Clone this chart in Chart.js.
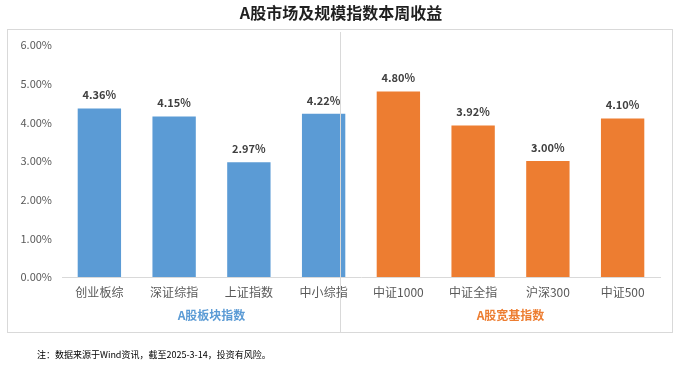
<!DOCTYPE html>
<html>
<head>
<meta charset="utf-8">
<script src="https://cdn.jsdelivr.net/npm/chart.js@4"></script>
<style>
  html, body { margin: 0; padding: 0; background: #fff; }
  #wrap { width: 683px; height: 366px; }
</style>
</head>
<body>
<div id="wrap"><canvas id="returns"></canvas></div>
<script>
// data
const categories = ["创业板综", "深证综指", "上证指数", "中小综指", "中证1000", "中证全指", "沪深300", "中证500"];
const weeklyReturn = [4.36, 4.15, 2.97, 4.22, 4.80, 3.92, 3.00, 4.10];
const groupNames = ["A股板块指数", "A股宽基指数"];
const groupRanges = [[0, 3], [4, 7]];
const yTicks = [0, 1, 2, 3, 4, 5, 6];

const blue = "#5B9BD5";
const orange = "#ED7D31";
const groupColors = [blue, orange];
const barColors = categories.map((c, i) => (i < 4 ? blue : orange));
const cjk = "'Noto Sans CJK SC', 'Noto Sans', sans-serif";

// frame, divider, titles, value labels, group labels
const decorations = {
  id: "decorations",
  beforeDraw(chart) {
    const ctx = chart.ctx;
    ctx.save();
    ctx.strokeStyle = "#d9d9d9";
    ctx.lineWidth = 1;
    ctx.strokeRect(7.5, 29.5, 665, 303);
    ctx.beginPath();
    ctx.moveTo(340.5, 32);
    ctx.lineTo(340.5, 332);
    ctx.stroke();
    ctx.restore();
  },
  afterDatasetsDraw(chart) {
    const ctx = chart.ctx;
    const meta = chart.getDatasetMeta(0);
    const xs = chart.scales.x;
    ctx.save();
    // divider sits on top of the bars
    ctx.strokeStyle = "#d9d9d9";
    ctx.lineWidth = 1;
    ctx.beginPath();
    ctx.moveTo(340.5, 32);
    ctx.lineTo(340.5, 332);
    ctx.stroke();

    ctx.fillStyle = "#404040";
    ctx.font = "bold 11px " + cjk;
    ctx.textAlign = "center";
    ctx.textBaseline = "bottom";
    meta.data.forEach((bar, i) => {
      ctx.fillText(weeklyReturn[i].toFixed(2) + "%", bar.x, bar.y - 8);
    });

    ctx.font = "bold 12px " + cjk;
    ctx.textBaseline = "middle";
    groupRanges.forEach((r, g) => {
      const cx = (xs.getPixelForValue(r[0]) + xs.getPixelForValue(r[1])) / 2;
      ctx.fillStyle = groupColors[g];
      ctx.fillText(groupNames[g], cx, 315);
    });

    ctx.fillStyle = "#1f1f1f";
    ctx.font = "bold 16px " + cjk;
    ctx.fillText("A股市场及规模指数本周收益", 341, 13);

    ctx.fillStyle = "#000";
    ctx.font = "9px " + cjk;
    ctx.textAlign = "left";
    ctx.fillText("注：数据来源于Wind资讯，截至2025-3-14，投资有风险。", 37, 355);
    ctx.restore();
  }
};

new Chart(document.getElementById("returns"), {
  type: "bar",
  data: {
    labels: categories,
    datasets: [
      {
        data: weeklyReturn,
        backgroundColor: barColors,
        barPercentage: 0.58,
        categoryPercentage: 1
      }
    ]
  },
  options: {
    responsive: true,
    maintainAspectRatio: false,
    animation: false,
    layout: { padding: { top: 45, left: 7, right: 23, bottom: 59 } },
    plugins: {
      legend: { display: false },
      tooltip: { enabled: false }
    },
    scales: {
      x: {
        grid: { display: false, drawTicks: false },
        border: { display: true, color: "#d9d9d9" },
        ticks: { color: "#595959", font: { size: 12, family: cjk }, padding: 8, maxRotation: 0 },
        afterFit(scale) { scale.height = 30; }
      },
      y: {
        min: 0,
        max: 6,
        grid: { display: false, drawTicks: false },
        border: { display: false },
        afterBuildTicks(scale) { scale.ticks = yTicks.map((v) => ({ value: v })); },
        ticks: {
          color: "#595959",
          font: { size: 11, family: cjk },
          padding: 10,
          callback: (v) => v.toFixed(2) + "%"
        },
        afterFit(scale) { scale.width = 55; }
      }
    }
  },
  plugins: [decorations]
});
</script>
</body>
</html>
